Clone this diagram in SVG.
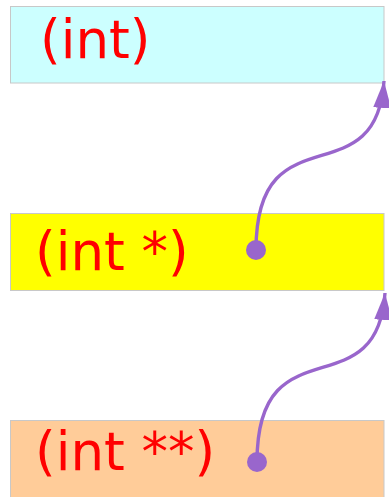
<svg xmlns="http://www.w3.org/2000/svg" width="389" height="497" viewBox="0 0 389 497">
<style>
.box{stroke:#c8c8c8;stroke-width:1}
.lbl{font-family:"DejaVu Sans",sans-serif;font-size:53px;fill:#ff0000}
.conn{fill:none;stroke:#9966cc;stroke-width:3.4}
.dot{fill:#9966cc}
</style>
<defs>
<marker id="ah" markerUnits="userSpaceOnUse" markerWidth="30" markerHeight="30" refX="27" refY="9" orient="auto" viewBox="0 0 30 18">
<path d="M0,0 L27,9 L0,18 Z" fill="#9966cc"/>
</marker>
</defs>
<g id="node-int">
<rect class="box" x="10.5" y="6.5" width="373.5" height="76.5" fill="#ccffff"/>
<text class="lbl" x="40" y="58">(int)</text>
</g>
<g id="node-intp">
<rect class="box" x="10.5" y="213.5" width="373.5" height="77" fill="#ffff00"/>
<text class="lbl" x="35" y="270">(int *)</text>
</g>
<g id="node-intpp">
<rect class="box" x="10.5" y="420.5" width="373.5" height="80" fill="#ffcc99"/>
<text class="lbl" x="35" y="470">(int **)</text>
</g>
<g id="connectors">
<path class="conn" d="M256,250 C256,108 376,200 384,81" marker-end="url(#ah)"/>
<circle class="dot" cx="256" cy="250" r="10"/>
<path class="conn" d="M257,462 C257,320 377,412 385,293" marker-end="url(#ah)"/>
<circle class="dot" cx="257" cy="462" r="10"/>
</g>
</svg>
